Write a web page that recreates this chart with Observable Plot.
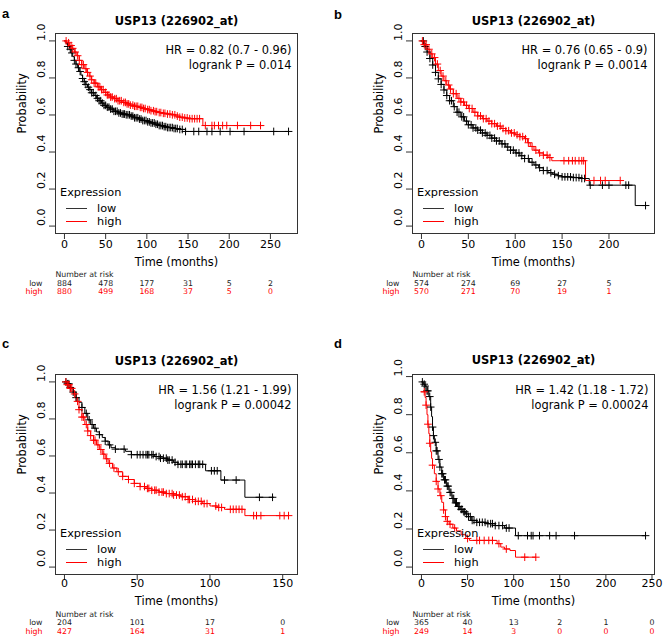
<!DOCTYPE html>
<html><head><meta charset="utf-8">
<script src="https://cdn.jsdelivr.net/npm/d3@7"></script>
<script src="https://cdn.jsdelivr.net/npm/@observablehq/plot@0.6"></script>
<style>
body{margin:0;background:#fff;}
#wrap{position:relative;width:664px;height:641px;overflow:hidden;background:#fff;}
.panel{position:absolute;}
.panel svg{display:block;}
</style></head><body><div id="wrap"></div>
<script>
// ---------- shared text ----------
const titleText = "USP13 (226902_at)";
const groups = ["low", "high"];
const yTickValues = [0, 0.2, 0.4, 0.6, 0.8, 1.0];

// ---------- panel a ----------
const aLowTime = [0, 2, 4, 6, 8, 10, 12, 14, 16, 18, 20, 22, 24, 26, 28, 30, 33, 36, 39, 42, 45, 48, 51, 55, 60, 65, 70, 75, 80, 85, 90, 95, 100, 105, 110, 115, 120, 125, 132, 140, 147, 272];
const aLowSurv = [1, 0.985, 0.97, 0.955, 0.935, 0.915, 0.895, 0.875, 0.855, 0.835, 0.815, 0.797, 0.78, 0.765, 0.75, 0.737, 0.72, 0.705, 0.69, 0.677, 0.664, 0.652, 0.642, 0.632, 0.62, 0.611, 0.605, 0.601, 0.594, 0.585, 0.578, 0.57, 0.563, 0.557, 0.55, 0.543, 0.537, 0.532, 0.527, 0.522, 0.511, 0.511];
const aHighTime = [0, 3, 6, 9, 12, 15, 18, 21, 24, 27, 30, 33, 36, 40, 44, 48, 52, 56, 60, 65, 70, 75, 80, 85, 90, 95, 100, 105, 110, 115, 120, 125, 130, 135, 140, 145, 150, 168, 242];
const aHighSurv = [1, 0.99, 0.975, 0.96, 0.94, 0.92, 0.895, 0.872, 0.85, 0.83, 0.81, 0.79, 0.772, 0.752, 0.737, 0.722, 0.708, 0.697, 0.688, 0.677, 0.668, 0.66, 0.653, 0.647, 0.641, 0.635, 0.629, 0.623, 0.618, 0.613, 0.609, 0.605, 0.601, 0.594, 0.588, 0.584, 0.58, 0.543, 0.543];
const aLowCens = [4, 7, 9, 12, 14, 17, 19, 22, 24, 26, 29, 31, 33, 35, 38, 40, 42, 44, 46, 48, 50, 52, 54, 56, 58, 60, 62, 64, 66, 68, 70, 72, 73, 75, 77, 79, 81, 83, 85, 87, 89, 91, 93, 95, 97, 99, 101, 103, 105, 107, 109, 111, 113, 115, 117, 119, 121, 123, 125, 127, 129, 131, 133, 135, 137, 140, 143, 147, 157, 163, 173, 179, 189, 201, 218, 254, 272];
const aHighCens = [2, 5, 8, 10, 13, 16, 18, 21, 23, 26, 28, 31, 33, 36, 38, 41, 43, 45, 47, 50, 52, 54, 56, 58, 61, 63, 65, 67, 69, 72, 74, 76, 78, 80, 83, 85, 87, 89, 92, 94, 96, 98, 101, 103, 105, 108, 110, 112, 115, 117, 120, 122, 125, 128, 131, 134, 137, 140, 143, 146, 149, 152, 155, 158, 161, 164, 171, 179, 182, 187, 192, 197, 210, 226, 238];
const aRiskTicks = [0, 50, 100, 150, 200, 250];
const aRiskLow = [884, 478, 177, 31, 5, 2];
const aRiskHigh = [880, 499, 168, 37, 5, 0];
const aHR = "HR = 0.82 (0.7 - 0.96)";
const aP = "logrank P = 0.014";

// ---------- panel b ----------
const bLowTime = [0, 3, 6, 9, 12, 15, 18, 21, 24, 27, 30, 34, 38, 42, 46, 50, 55, 60, 65, 70, 75, 80, 85, 90, 95, 100, 105, 110, 115, 120, 125, 130, 135, 140, 145, 150, 160, 170, 179, 228, 239];
const bLowSurv = [1, 0.97, 0.94, 0.905, 0.87, 0.83, 0.795, 0.765, 0.735, 0.705, 0.677, 0.645, 0.615, 0.59, 0.567, 0.547, 0.53, 0.518, 0.503, 0.49, 0.475, 0.46, 0.444, 0.427, 0.41, 0.395, 0.38, 0.365, 0.345, 0.33, 0.315, 0.3, 0.288, 0.28, 0.272, 0.266, 0.262, 0.257, 0.221, 0.111, 0.111];
const bHighTime = [0, 3, 6, 9, 12, 15, 18, 21, 24, 27, 30, 34, 38, 42, 46, 50, 55, 60, 65, 70, 75, 80, 85, 90, 95, 100, 105, 110, 113, 116, 120, 125, 130, 135, 139, 175, 213];
const bHighSurv = [1, 0.98, 0.955, 0.93, 0.91, 0.875, 0.84, 0.81, 0.785, 0.762, 0.74, 0.715, 0.69, 0.67, 0.652, 0.635, 0.615, 0.595, 0.58, 0.567, 0.553, 0.54, 0.527, 0.515, 0.503, 0.493, 0.483, 0.472, 0.45, 0.43, 0.41, 0.395, 0.383, 0.37, 0.353, 0.246, 0.246];
const bLowCens = [2, 4, 6, 9, 12, 15, 18, 21, 24, 27, 30, 32, 35, 38, 40, 43, 45, 48, 50, 53, 55, 58, 60, 63, 65, 68, 70, 73, 75, 78, 80, 83, 86, 89, 92, 95, 98, 101, 104, 107, 110, 114, 118, 122, 126, 130, 134, 138, 142, 146, 150, 153, 156, 159, 162, 165, 168, 171, 174, 180, 193, 200, 218, 221, 239];
const bHighCens = [1, 3, 5, 8, 11, 14, 17, 20, 23, 26, 29, 31, 34, 37, 40, 42, 45, 48, 51, 54, 57, 60, 63, 66, 69, 72, 75, 78, 81, 84, 87, 90, 93, 96, 99, 102, 105, 108, 111, 114, 118, 122, 126, 130, 134, 137, 152, 157, 161, 164, 168, 171, 173, 184, 191, 196, 212];
const bRiskTicks = [0, 50, 100, 150, 200];
const bRiskLow = [574, 274, 69, 27, 5];
const bRiskHigh = [570, 271, 70, 19, 1];
const bHR = "HR = 0.76 (0.65 - 0.9)";
const bP = "logrank P = 0.0014";

// ---------- panel c ----------
const cLowTime = [0, 2, 4, 6, 8, 10, 12, 14, 16, 18, 20, 22, 24, 26, 28, 30, 32, 35, 42, 46, 62, 66, 71, 75, 78, 97, 107.5, 124, 143.8];
const cLowSurv = [1, 0.99, 0.97, 0.945, 0.915, 0.89, 0.862, 0.83, 0.795, 0.77, 0.75, 0.73, 0.715, 0.7, 0.68, 0.66, 0.645, 0.637, 0.625, 0.607, 0.597, 0.588, 0.578, 0.566, 0.555, 0.52, 0.47, 0.377, 0.377];
const cHighTime = [0, 2, 4, 6, 8, 10, 12, 14, 16, 18, 20, 22, 24, 26, 28, 30, 33, 36, 40, 44, 48, 52, 56, 60, 65, 70, 75, 80, 85, 90, 95, 100, 105, 110, 124, 154];
const cHighSurv = [1, 0.985, 0.965, 0.935, 0.895, 0.85, 0.81, 0.77, 0.735, 0.71, 0.685, 0.66, 0.635, 0.61, 0.585, 0.56, 0.535, 0.515, 0.49, 0.473, 0.452, 0.435, 0.425, 0.415, 0.405, 0.397, 0.389, 0.38, 0.365, 0.355, 0.343, 0.33, 0.322, 0.312, 0.278, 0.278];
const cLowCens = [1, 2, 3, 4, 6, 8, 12, 15, 17, 19, 21, 24, 28, 31, 35, 41, 46, 50, 52, 54, 56, 57, 58, 60, 61, 63, 65, 66, 68, 70, 71, 72, 74, 76, 78, 80, 81, 83, 84, 86, 87, 88, 90, 92, 93, 95, 101, 103, 105, 110, 118, 134, 143];
const cHighCens = [1, 2, 3, 4, 5, 7, 9, 10, 12, 13, 15, 16, 18, 20, 21, 23, 25, 27, 29, 31, 34, 37, 40, 44, 48, 52, 55, 57, 58, 60, 62, 63, 65, 67, 68, 70, 72, 74, 75, 77, 79, 81, 83, 85, 86, 88, 90, 92, 94, 96, 98, 104, 106, 108, 114, 116, 118, 120, 122, 130, 132, 135, 148, 151, 154];
const cRiskTicks = [0, 50, 100, 150];
const cRiskLow = [204, 101, 17, 0];
const cRiskHigh = [427, 164, 31, 1];
const cHR = "HR = 1.56 (1.21 - 1.99)";
const cP = "logrank P = 0.00042";

// ---------- panel d ----------
const dLowTime = [0, 2, 4, 6, 8, 10, 11, 12, 13, 14, 16, 18, 20, 22, 24, 27, 30, 33, 36, 39, 42, 45, 48, 51, 54, 60, 70, 80, 90, 102, 243];
const dLowSurv = [0.972, 0.96, 0.95, 0.925, 0.895, 0.84, 0.79, 0.735, 0.69, 0.655, 0.61, 0.565, 0.525, 0.49, 0.458, 0.425, 0.392, 0.36, 0.337, 0.318, 0.303, 0.29, 0.279, 0.265, 0.245, 0.235, 0.228, 0.218, 0.205, 0.165, 0.165];
const dHighTime = [0, 4, 5, 6, 7, 8, 9, 10, 11, 12, 14, 16, 18, 20, 22, 24, 26, 28, 30, 34, 38, 43, 48, 52, 82, 86, 90, 96, 102, 124];
const dHighSurv = [0.92, 0.89, 0.85, 0.8, 0.75, 0.7, 0.65, 0.605, 0.57, 0.535, 0.49, 0.45, 0.41, 0.375, 0.34, 0.3, 0.265, 0.24, 0.225, 0.205, 0.19, 0.17, 0.15, 0.14, 0.123, 0.105, 0.095, 0.087, 0.052, 0.052];
const dLowCens = [1, 3, 4, 6, 7, 9, 10, 12, 13, 15, 16, 17, 19, 20, 22, 23, 25, 26, 28, 29, 31, 32, 34, 35, 37, 38, 40, 41, 43, 44, 46, 47, 49, 51, 53, 55, 57, 60, 63, 66, 69, 72, 75, 77, 80, 84, 88, 92, 95, 105, 115, 119, 121, 128, 139, 146, 166, 243];
const dHighCens = [3, 5, 7, 9, 12, 16, 18, 21, 24, 26, 28, 31, 36, 50, 60, 63, 68, 73, 77, 84, 92, 112, 124];
const dRiskTicks = [0, 50, 100, 150, 200, 250];
const dRiskLow = [365, 40, 13, 2, 1, 0];
const dRiskHigh = [249, 14, 3, 0, 0, 0];
const dHR = "HR = 1.42 (1.18 - 1.72)";
const dP = "logrank P = 0.00024";

// ---------- layout (positions / styles only) ----------
const topRow = {tick: 14, xlab: 32.5, nar: 43, low: 52, high: 60.7};
const botRow = {tick: 12.7, xlab: 30.3, nar: 42, low: 50.7, high: 59.3};
const panels = [
  {label: "a", left: 0, top: 0, width: 332, height: 320, mL: 55, mR: 35, mT: 33, mB: 87, titleDy: -17, labDy: -24.7, hrDx: -6, hrDy: 12.3, pDy: 27, off: topRow,
   lowTime: aLowTime, lowSurv: aLowSurv, highTime: aHighTime, highSurv: aHighSurv, lowCens: aLowCens, highCens: aHighCens,
   ticks: aRiskTicks, riskLow: aRiskLow, riskHigh: aRiskHigh, hr: aHR, p: aP},
  {label: "b", left: 332, top: 0, width: 332, height: 320, mL: 80, mR: 10, mT: 33, mB: 87, titleDy: -17, labDy: -24.2, hrDx: -7, hrDy: 12.7, pDy: 27, off: topRow,
   lowTime: bLowTime, lowSurv: bLowSurv, highTime: bHighTime, highSurv: bHighSurv, lowCens: bLowCens, highCens: bHighCens,
   ticks: bRiskTicks, riskLow: bRiskLow, riskHigh: bRiskHigh, hr: bHR, p: bP},
  {label: "c", left: 0, top: 320, width: 332, height: 321, mL: 55, mR: 35, mT: 54, mB: 67, titleDy: -18, labDy: -35.7, hrDx: -6, hrDy: 11.7, pDy: 26, off: botRow,
   lowTime: cLowTime, lowSurv: cLowSurv, highTime: cHighTime, highSurv: cHighSurv, lowCens: cLowCens, highCens: cHighCens,
   ticks: cRiskTicks, riskLow: cRiskLow, riskHigh: cRiskHigh, hr: cHR, p: cP},
  {label: "d", left: 332, top: 320, width: 332, height: 321, mL: 80, mR: 10, mT: 54, mB: 67, titleDy: -19, labDy: -36.2, hrDx: -6, hrDy: 11.7, pDy: 26, off: botRow,
   lowTime: dLowTime, lowSurv: dLowSurv, highTime: dHighTime, highSurv: dHighSurv, lowCens: dLowCens, highCens: dHighCens,
   ticks: dRiskTicks, riskLow: dRiskLow, riskHigh: dRiskHigh, hr: dHR, p: dP}
];

const FONT = "DejaVu Sans";
const colorRange = ["#000000", "#ff0000"];

// step function value (KM estimate) at time t
function survAt(times, survs, t) {
  let s = survs[0];
  for (let i = 0; i < times.length; i++) if (times[i] <= t) s = survs[i];
  return s;
}

function legendMark(index, scales, values, dim) {
  const g = d3.create("svg:g")
    .style("font-family", FONT).style("font-size", "11.3px").style("text-anchor", "start");
  const x0 = dim.marginLeft;
  const yb = dim.height - dim.marginBottom;
  g.append("text").attr("x", x0 + 5).attr("y", yb - 40.5).attr("dy", "0.35em").text("Expression");
  [["low", "#333333", -24.5], ["high", "#ff0000", -11.5]].forEach(([name, col, dy]) => {
    g.append("line").attr("x1", x0 + 11).attr("x2", x0 + 32).attr("y1", yb + dy).attr("y2", yb + dy)
      .attr("stroke", col).attr("stroke-width", 1);
    g.append("text").attr("x", x0 + 42).attr("y", yb + dy).attr("dy", "0.35em").text(name);
  });
  return g.node();
}

function makePanel(cfg) {
  const tmax = d3.max([...cfg.lowTime, ...cfg.highTime]);
  const smax = d3.max([...cfg.lowSurv, ...cfg.highSurv]);
  const curves = [
    ...cfg.lowTime.map((t, i) => ({group: "low", t, s: cfg.lowSurv[i]})),
    ...cfg.highTime.map((t, i) => ({group: "high", t, s: cfg.highSurv[i]}))
  ];
  const cens = [
    ...cfg.lowCens.map(t => ({group: "low", t, s: survAt(cfg.lowTime, cfg.lowSurv, t)})),
    ...cfg.highCens.map(t => ({group: "high", t, s: survAt(cfg.highTime, cfg.highSurv, t)}))
  ];
  const riskLowRows = cfg.ticks.map((t, i) => ({t, n: cfg.riskLow[i]}));
  const riskHighRows = cfg.ticks.map((t, i) => ({t, n: cfg.riskHigh[i]}));
  const o = cfg.off;
  return Plot.plot({
    width: cfg.width, height: cfg.height,
    marginLeft: cfg.mL, marginRight: cfg.mR, marginTop: cfg.mT, marginBottom: cfg.mB,
    style: {fontFamily: FONT, fontSize: "11px", background: "white", color: "black"},
    x: {domain: [-0.04 * tmax, 1.04 * tmax]},
    y: {domain: [-0.04 * smax, 1.04 * smax]},
    color: {domain: groups, range: colorRange},
    marks: [
      Plot.frame({stroke: "#333"}),
      Plot.axisX({ticks: cfg.ticks, tickSize: 6, tickFormat: () => "", label: null, stroke: "#333"}),
      Plot.axisY({ticks: yTickValues, tickSize: 6, tickFormat: () => "", label: null, stroke: "#333"}),
      Plot.text(cfg.ticks, {x: d => d, text: d => String(d), frameAnchor: "bottom", dy: o.tick, fontSize: 11}),
      Plot.text(yTickValues, {y: d => d, text: d => d.toFixed(1), frameAnchor: "left", dx: -14, rotate: -90, fontSize: 11}),
      Plot.text(["Probability"], {text: d => d, frameAnchor: "left", dx: -33, rotate: -90, fontSize: 11.4}),
      Plot.text(["Time (months)"], {text: d => d, frameAnchor: "bottom", dy: o.xlab, fontSize: 11.4}),
      Plot.text([titleText], {text: d => d, frameAnchor: "top", dy: cfg.titleDy, fontSize: 11.5, fontWeight: "bold"}),
      Plot.text([cfg.label], {text: d => d, frameAnchor: "top-left", textAnchor: "start", dx: 1.5 - cfg.mL, dy: cfg.labDy, fontSize: 13, fontWeight: "bold", fontFamily: "Liberation Sans"}),
      Plot.text([cfg.hr], {text: d => d, frameAnchor: "top-right", textAnchor: "end", dx: cfg.hrDx, dy: cfg.hrDy, fontSize: 11.4}),
      Plot.text([cfg.p], {text: d => d, frameAnchor: "top-right", textAnchor: "end", dx: cfg.hrDx, dy: cfg.pDy, fontSize: 11.4}),
      Plot.text(["Number at risk"], {text: d => d, frameAnchor: "bottom-left", textAnchor: "start", dy: o.nar, fontSize: 7.8, fill: "#222"}),
      Plot.text(["low"], {text: d => d, frameAnchor: "bottom-left", textAnchor: "end", dx: -13, dy: o.low, fontSize: 7.8, fill: "#222"}),
      Plot.text(["high"], {text: d => d, frameAnchor: "bottom-left", textAnchor: "end", dx: -13, dy: o.high, fontSize: 7.8, fill: "#ff0000"}),
      Plot.text(riskLowRows, {x: "t", text: d => String(d.n), frameAnchor: "bottom", dy: o.low, fontSize: 7.8, fill: "#222"}),
      Plot.text(riskHighRows, {x: "t", text: d => String(d.n), frameAnchor: "bottom", dy: o.high, fontSize: 7.8, fill: "#ff0000"}),
      Plot.line(curves, {x: "t", y: "s", z: "group", stroke: "group", curve: "step-after", strokeWidth: 1}),
      Plot.dot(cens, {x: "t", y: "s", stroke: "group", symbol: "plus", r: 2.6, strokeWidth: 1}),
      legendMark
    ]
  });
}

const wrap = document.getElementById("wrap");
panels.forEach(cfg => {
  const div = document.createElement("div");
  div.className = "panel";
  div.style.left = cfg.left + "px";
  div.style.top = cfg.top + "px";
  div.appendChild(makePanel(cfg));
  wrap.appendChild(div);
});
</script>
</body></html>
